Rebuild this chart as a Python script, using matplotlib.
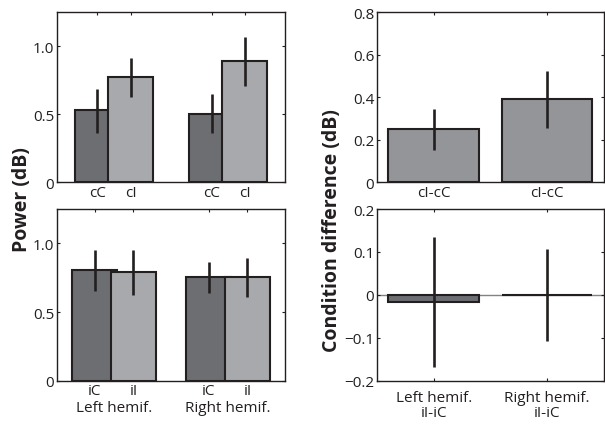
import numpy as np
import matplotlib
matplotlib.use('Agg')
import matplotlib.pyplot as plt
import matplotlib.transforms as mtransforms

plt.rcParams['font.family'] = ['Open Sans', 'DejaVu Sans']
plt.rcParams['font.size'] = 11
plt.rcParams['axes.unicode_minus'] = True

# data
groups = ['Left hemif.', 'Right hemif.']
contra_labels = ['cC', 'cI']
ipsi_labels = ['iC', 'iI']

contra_cong = [0.527, 0.502]
contra_cong_lo = [0.358, 0.358]
contra_cong_hi = [0.685, 0.644]
contra_incong = [0.773, 0.890]
contra_incong_lo = [0.624, 0.705]
contra_incong_hi = [0.912, 1.066]

ipsi_cong = [0.808, 0.752]
ipsi_cong_lo = [0.655, 0.638]
ipsi_cong_hi = [0.953, 0.866]
ipsi_incong = [0.793, 0.752]
ipsi_incong_lo = [0.624, 0.607]
ipsi_incong_hi = [0.953, 0.893]

diff_contra = [0.249, 0.390]
diff_contra_lo = [0.152, 0.253]
diff_contra_hi = [0.344, 0.521]
diff_contra_labels = ['cI-cC', 'cI-cC']

diff_ipsi = [-0.016, 0.0]
diff_ipsi_lo = [-0.167, -0.107]
diff_ipsi_hi = [0.135, 0.107]
diff_ipsi_labels = ['Left hemif.\niI-iC', 'Right hemif.\niI-iC']

DARK = '#6d6e71'
LIGHT = '#a7a9ac'
MID = '#939598'
EDGE = '#231f20'


def style_axes(ax):
    for s in ax.spines.values():
        s.set_linewidth(1.0)
        s.set_color(EDGE)
    ax.tick_params(direction='in', length=2.5, width=0.8, top=True, right=True,
                   labelsize=11, pad=2, colors=EDGE)
    ax.set_xlim(0.5, 2.5)


def err(ax, x, val, lo, hi):
    val = np.array(val)
    yerr = np.vstack([val - np.array(lo), np.array(hi) - val])
    ax.errorbar(x, val, yerr=yerr, fmt='none', ecolor=EDGE, elinewidth=1.9,
                capsize=0, zorder=5)


def power_panel(ax, c_val, c_lo, c_hi, i_val, i_lo, i_hi, labels, off):
    x = np.arange(1, len(groups) + 1)
    x1 = x - off
    x2 = x + off
    ax.bar(x1, c_val, 0.4, color=DARK, edgecolor=EDGE, linewidth=1.5, zorder=2)
    ax.bar(x2, i_val, 0.4, color=LIGHT, edgecolor=EDGE, linewidth=1.5, zorder=3)
    err(ax, x1, c_val, c_lo, c_hi)
    err(ax, x2, i_val, i_lo, i_hi)
    ticks = np.sort(np.concatenate([x1, x2]))
    ax.set_xticks(ticks)
    ax.set_xticklabels(labels * len(groups))
    ax.set_ylim(0, 1.25)
    ax.set_yticks([0, 0.5, 1.0])
    ax.set_yticklabels(['0', '0.5', '1.0'])
    style_axes(ax)
    return x


fig = plt.figure(figsize=(6.05, 4.27), dpi=100)

ax1 = fig.add_axes([0.0942, 0.5714, 0.377, 0.398])
power_panel(ax1, contra_cong, contra_cong_lo, contra_cong_hi,
            contra_incong, contra_incong_lo, contra_incong_hi, contra_labels, 0.145)

ax2 = fig.add_axes([0.0942, 0.1061, 0.377, 0.402])
xg = power_panel(ax2, ipsi_cong, ipsi_cong_lo, ipsi_cong_hi,
                 ipsi_incong, ipsi_incong_lo, ipsi_incong_hi, ipsi_labels, 0.17)
trans = mtransforms.blended_transform_factory(ax2.transData, ax2.transAxes)
for g, name in zip(xg, groups):
    ax2.text(g, -0.178, name, transform=trans, ha='center', va='baseline',
             fontsize=11, color=EDGE)

fig.text(0.036, 0.532, 'Power (dB)', rotation=90, ha='center', va='center',
         fontsize=14, fontweight='bold', color=EDGE)

# difference panels
xd = np.arange(1, len(diff_contra) + 1)
ax3 = fig.add_axes([0.623, 0.5714, 0.375, 0.398])
ax3.bar(xd, diff_contra, 0.8, color=MID, edgecolor=EDGE, linewidth=1.5, zorder=2)
err(ax3, xd, diff_contra, diff_contra_lo, diff_contra_hi)
ax3.set_ylim(0, 0.8)
ax3.set_yticks([0, 0.2, 0.4, 0.6, 0.8])
ax3.set_yticklabels(['0', '0.2', '0.4', '0.6', '0.8'])
ax3.set_xticks(xd)
ax3.set_xticklabels(diff_contra_labels)
style_axes(ax3)

ax4 = fig.add_axes([0.623, 0.1061, 0.375, 0.402])
ax4.axhline(0, color='#808285', linewidth=1.0, zorder=1)
ax4.bar(xd, diff_ipsi, 0.8, color=DARK, edgecolor=EDGE, linewidth=1.5, zorder=2)
err(ax4, xd, diff_ipsi, diff_ipsi_lo, diff_ipsi_hi)
ax4.set_ylim(-0.2, 0.2)
ax4.set_yticks([-0.2, -0.1, 0, 0.1, 0.2])
ax4.set_yticklabels(['\u22120.2', '\u22120.1', '0', '0.1', '0.2'])
ax4.set_xticks(xd)
ax4.set_xticklabels(diff_ipsi_labels, linespacing=1.0)
style_axes(ax4)
ax4.tick_params(axis='x', pad=7)

fig.text(0.549, 0.46, 'Condition difference (dB)', rotation=90, ha='center',
         va='center', fontsize=14, fontweight='bold', color=EDGE)

fig.savefig('out.png', dpi=100)
